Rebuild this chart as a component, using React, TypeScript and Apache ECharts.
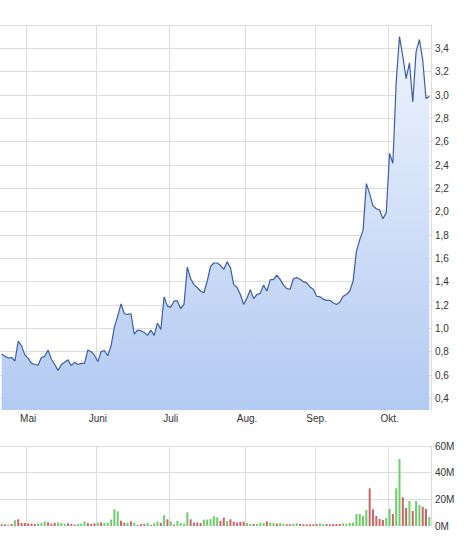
import React, { useEffect, useRef } from 'react';
import * as echarts from 'echarts';

// Trading-day calendar (2020): month names and number of trading days shown per month
const monthNames = ['Apr.', 'Mai', 'Juni', 'Juli', 'Aug.', 'Sep.', 'Okt.'];
const monthDays = [8, 21, 22, 23, 21, 22, 13];

// Closing prices (EUR)
const prices = [
  0.78, 0.76, 0.745, 0.75, 0.72, 0.89, 0.85, 0.77, 0.745, 0.70,
  0.69, 0.685, 0.75, 0.76, 0.815, 0.735, 0.69, 0.64, 0.69, 0.71,
  0.73, 0.68, 0.71, 0.69, 0.70, 0.70, 0.815, 0.80, 0.77, 0.715,
  0.80, 0.81, 0.765, 0.85, 1.01, 1.105, 1.21, 1.125, 1.12, 1.125,
  0.95, 0.985, 0.98, 0.965, 0.94, 0.985, 0.94, 1.045, 0.99, 1.27,
  1.19, 1.18, 1.235, 1.235, 1.17, 1.205, 1.525, 1.425, 1.375, 1.35,
  1.32, 1.305, 1.405, 1.53, 1.56, 1.56, 1.54, 1.505, 1.57, 1.52,
  1.375, 1.35, 1.29, 1.205, 1.26, 1.33, 1.255, 1.29, 1.30, 1.37,
  1.32, 1.415, 1.42, 1.455, 1.42, 1.37, 1.34, 1.335, 1.425, 1.435,
  1.42, 1.40, 1.39, 1.355, 1.335, 1.275, 1.27, 1.25, 1.24, 1.24,
  1.22, 1.205, 1.225, 1.275, 1.29, 1.32, 1.405, 1.66, 1.76, 1.84,
  2.24, 2.155, 2.05, 2.025, 2.015, 1.94, 1.99, 2.50, 2.415, 3.11,
  3.50, 3.33, 3.14, 3.275, 2.94, 3.37, 3.475, 3.30, 2.97, 2.99,
];

// Traded volume (millions)
const volumes = [
  1.25, 1.25, 1.0, 1.5, 4.3, 5.0, 2.3, 2.3, 2.0, 1.75,
  1.5, 1.75, 2.3, 3.5, 2.75, 1.75, 2.3, 2.75, 2.3, 1.75,
  2.0, 1.5, 1.0, 1.5, 1.75, 3.5, 2.3, 1.5, 2.0, 2.5,
  2.75, 2.3, 2.5, 4.8, 12.5, 11.0, 4.0, 2.5, 2.5, 3.5,
  2.5, 0.75, 1.5, 1.5, 2.3, 0.75, 2.0, 3.3, 2.3, 8.0,
  5.0, 3.5, 1.0, 3.8, 2.3, 1.75, 10.3, 5.0, 2.5, 2.75,
  2.3, 4.8, 4.8, 5.2, 7.3, 6.5, 3.8, 6.3, 3.8, 5.0,
  3.3, 2.5, 3.0, 3.3, 2.3, 1.5, 1.5, 1.5, 2.3, 2.3,
  3.5, 2.5, 2.3, 1.75, 2.3, 1.75, 1.25, 1.25, 1.75, 2.0,
  1.5, 1.25, 1.25, 1.25, 1.25, 1.5, 2.0, 1.5, 1.5, 1.25,
  1.5, 1.5, 1.5, 2.0, 1.75, 2.25, 2.5, 9.0, 9.0, 7.5,
  12.0, 28.25, 12.5, 7.5, 5.25, 4.5, 6.0, 12.75, 9.0, 28.25,
  50.25, 21.5, 13.5, 18.75, 11.25, 18.75, 15.75, 14.5, 12.75, 6.75,
];

// 1 = up day (green), 0 = down day (red)
const volumeUp = [
  0, 0, 1, 0, 1, 0, 0, 0, 0, 0,
  0, 1, 1, 1, 0, 0, 0, 1, 1, 1,
  0, 0, 0, 1, 1, 1, 0, 0, 0, 1,
  0, 1, 1, 1, 1, 1, 0, 0, 1, 0,
  1, 0, 0, 0, 1, 0, 1, 1, 0, 1,
  0, 1, 0, 1, 1, 1, 1, 0, 0, 0,
  0, 1, 1, 1, 1, 1, 0, 0, 1, 0,
  0, 0, 0, 0, 1, 1, 0, 1, 1, 1,
  0, 1, 1, 0, 1, 1, 0, 0, 1, 1,
  0, 0, 0, 0, 0, 0, 1, 1, 0, 0,
  0, 0, 0, 1, 1, 1, 1, 1, 1, 1,
  1, 0, 0, 0, 0, 0, 1, 1, 0, 1,
  1, 0, 0, 1, 0, 1, 1, 0, 0, 1,
];

const priceTickLabels = ['0,4', '0,6', '0,8', '1,0', '1,2', '1,4', '1,6', '1,8', '2,0', '2,2', '2,4', '2,6', '2,8', '3,0', '3,2', '3,4'];
const volumeTickLabels = ['0M', '20M', '40M', '60M'];

const categories: string[] = [];
const monthStart = new Set<number>();
monthNames.forEach((m, mi) => {
  for (let d = 0; d < monthDays[mi]; d++) {
    if (d === 0 && mi > 0) monthStart.add(categories.length);
    categories.push(`${m}|${d + 1}`);
  }
});

const GRID_COLOR = '#dcdcdc';
const LABEL_COLOR = '#333333';
const FONT = 'Liberation Sans, Arial, sans-serif';

export default function App() {
  const ref = useRef<HTMLDivElement>(null);
  useEffect(() => {
    if (!ref.current) return;
    const chart = echarts.init(ref.current, undefined, { renderer: 'svg' });
    const isMonthStart = (idx: number) => monthStart.has(idx);
    const option: any = {
      animation: false,
      backgroundColor: '#ffffff',
      grid: [
        { left: 0, right: 45, top: 25, height: 385 },
        { left: 0, right: 45, top: 446, height: 80 },
      ],
      xAxis: [
        {
          type: 'category', gridIndex: 0, data: categories, boundaryGap: true,
          axisLine: { show: false }, axisTick: { show: false },
          axisLabel: {
            interval: (i: number) => isMonthStart(i),
            formatter: (v: string) => v.split('|')[0],
            color: LABEL_COLOR, fontSize: 10, fontFamily: FONT, margin: 3,
          },
          splitLine: { show: true, interval: (i: number) => isMonthStart(i), lineStyle: { color: GRID_COLOR, width: 1 } },
        },
        {
          type: 'category', gridIndex: 1, data: categories, boundaryGap: true,
          axisLine: { show: false }, axisTick: { show: false }, axisLabel: { show: false },
          splitLine: { show: true, interval: (i: number) => isMonthStart(i), lineStyle: { color: GRID_COLOR, width: 1 } },
        },
      ],
      yAxis: [
        {
          type: 'value', gridIndex: 0, position: 'right', min: 0.3, max: 3.6, interval: 0.1,
          axisLine: { show: true, lineStyle: { color: GRID_COLOR } }, axisTick: { show: false },
          axisLabel: {
            color: LABEL_COLOR, fontSize: 10, fontFamily: FONT, margin: 4, align: 'left',
            formatter: (v: number) => {
              const s = (Math.round(v * 10) / 10).toFixed(1).replace('.', ',');
              return priceTickLabels.includes(s) ? s : '';
            },
          },
          splitLine: { show: true, lineStyle: { color: ['transparent', GRID_COLOR], width: 1 } },
        },
        {
          type: 'value', gridIndex: 1, position: 'right', min: 0, max: 60, interval: 20,
          axisLine: { show: false }, axisTick: { show: false },
          axisLabel: {
            color: LABEL_COLOR, fontSize: 10, fontFamily: FONT, margin: 4, align: 'left',
            formatter: (v: number) => {
              const s = `${Math.round(v)}M`;
              return volumeTickLabels.includes(s) ? s : '';
            },
          },
          splitLine: { show: true, lineStyle: { color: ['transparent', GRID_COLOR, GRID_COLOR, GRID_COLOR], width: 1 } },
        },
      ],
      series: [
        {
          type: 'line', xAxisIndex: 0, yAxisIndex: 0, data: prices,
          symbol: 'none', smooth: false,
          lineStyle: { color: '#3a5da6', width: 1.2 },
          areaStyle: {
            color: new echarts.graphic.LinearGradient(0, 0, 0, 1, [
              { offset: 0, color: '#eef4fd' },
              { offset: 1, color: '#b3caf2' },
            ]),
            opacity: 1,
          },
        },
        {
          type: 'bar', xAxisIndex: 1, yAxisIndex: 1, barWidth: 2,
          data: volumes.map((v, i) => ({
            value: v,
            itemStyle: { color: volumeUp[i] ? '#6dcf6a' : '#cf6466' },
          })),
        },
      ],
    };
    chart.setOption(option);
    return () => chart.dispose();
  }, []);
  return (
    <div
      ref={ref}
      style={{ position: 'fixed', left: 0, top: 0, width: 476, height: 537, background: '#fff' }}
    />
  );
}
